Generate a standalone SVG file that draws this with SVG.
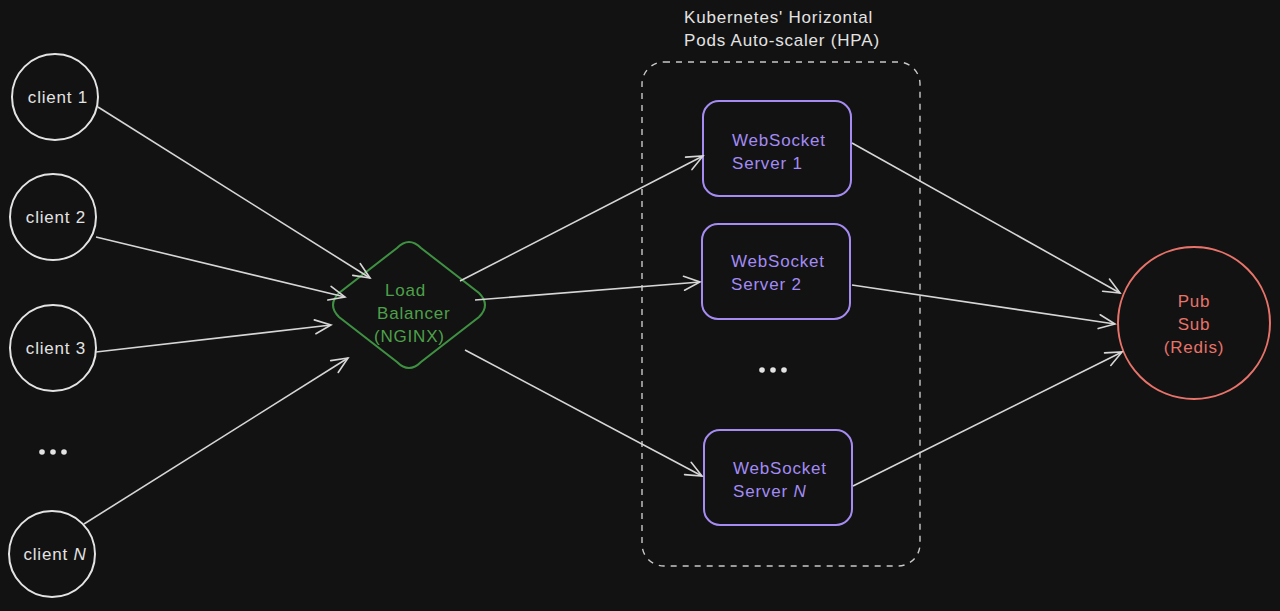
<svg xmlns="http://www.w3.org/2000/svg" width="1280" height="611" viewBox="0 0 1280 611">
<defs>
<marker id="ah" viewBox="0 0 20 20" refX="18" refY="10" markerWidth="20" markerHeight="20" markerUnits="userSpaceOnUse" orient="auto">
<path d="M2,3 L18,10 L2,17" fill="none" stroke="#d6d6d6" stroke-width="1.6" stroke-linecap="round"/>
</marker>
<style>
text{font-family:"Liberation Sans","DejaVu Sans",sans-serif;font-size:17px;letter-spacing:0.8px}
.client{fill:none;stroke:#e3e3e3;stroke-width:2}
.ct{fill:#e3e3e3;text-anchor:middle}
.ws{fill:none;stroke:#a68cf2;stroke-width:2}
.wt{fill:#a38bf5}
.lt{fill:#4ea04a}
.rt{fill:#e8736a;text-anchor:middle}
.conn line{stroke:#d6d6d6;stroke-width:1.6;marker-end:url(#ah)}
.dots{fill:#e3e3e3}
</style>
</defs>
<rect width="1280" height="611" fill="#121212"/>

<g id="hpa">
<rect x="642" y="62" width="278" height="504" rx="22" fill="none" stroke="#c8c8c8" stroke-width="1.4" stroke-dasharray="6 6"/>
<text x="684" y="23" fill="#e3e3e3">Kubernetes' Horizontal</text>
<text x="684" y="46" fill="#e3e3e3">Pods Auto-scaler (HPA)</text>
</g>

<g id="client1"><circle class="client" cx="55" cy="97" r="43"/><text class="ct" x="58" y="103">client 1</text></g>
<g id="client2"><circle class="client" cx="53" cy="217" r="43"/><text class="ct" x="56" y="223">client 2</text></g>
<g id="client3"><circle class="client" cx="53" cy="348" r="43"/><text class="ct" x="56" y="354">client 3</text></g>
<g id="clientDots"><circle class="dots" cx="42" cy="452" r="2.8"/><circle class="dots" cx="53" cy="452" r="2.8"/><circle class="dots" cx="64" cy="452" r="2.8"/></g>
<g id="clientN"><circle class="client" cx="52" cy="554" r="43"/><text class="ct" x="55" y="560">client <tspan font-style="italic">N</tspan></text></g>

<g id="lb">
<path d="M397,248 Q409,236 421,248 L479,293 Q491,305 479,317 L421,362 Q409,374 397,362 L339,317 Q327,305 339,293 Z" fill="none" stroke="#3f9142" stroke-width="2"/>
<text class="lt" x="385" y="296">Load</text>
<text class="lt" x="377" y="319">Balancer</text>
<text class="lt" x="374" y="342">(NGINX)</text>
</g>

<g id="ws1"><rect class="ws" x="703" y="101" width="148" height="95" rx="16"/><text class="wt" x="732" y="146">WebSocket</text><text class="wt" x="732" y="169">Server 1</text></g>
<g id="ws2"><rect class="ws" x="702" y="224" width="148" height="95" rx="16"/><text class="wt" x="731" y="267">WebSocket</text><text class="wt" x="731" y="290">Server 2</text></g>
<g id="wsDots"><circle class="dots" cx="762" cy="370" r="2.8"/><circle class="dots" cx="773" cy="370" r="2.8"/><circle class="dots" cx="784" cy="370" r="2.8"/></g>
<g id="wsN"><rect class="ws" x="704" y="430" width="148" height="95" rx="16"/><text class="wt" x="733" y="474">WebSocket</text><text class="wt" x="733" y="497">Server <tspan font-style="italic">N</tspan></text></g>

<g id="redis">
<circle cx="1194" cy="323" r="76" fill="none" stroke="#e8736a" stroke-width="2"/>
<text class="rt" x="1194" y="307">Pub</text>
<text class="rt" x="1194" y="330">Sub</text>
<text class="rt" x="1194" y="353">(Redis)</text>
</g>

<g id="connectors" class="conn">
<line x1="98" y1="107" x2="370" y2="278"/>
<line x1="96" y1="237" x2="345" y2="297"/>
<line x1="96" y1="352" x2="331" y2="325"/>
<line x1="84" y1="524" x2="348" y2="358"/>
<line x1="460" y1="281" x2="703" y2="156"/>
<line x1="475" y1="300" x2="700" y2="282"/>
<line x1="465" y1="350" x2="702" y2="476"/>
<line x1="852" y1="143" x2="1120" y2="293"/>
<line x1="852" y1="285" x2="1115" y2="324"/>
<line x1="853" y1="486" x2="1122" y2="352"/>
</g>
</svg>
